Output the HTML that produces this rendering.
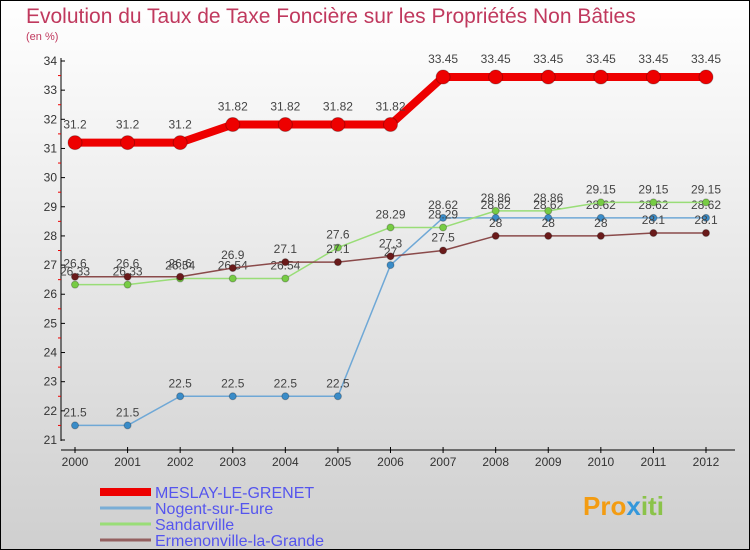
<!DOCTYPE html>
<html><head><meta charset="utf-8"><style>
html,body{margin:0;padding:0}
body{width:750px;height:550px;overflow:hidden;font-family:"Liberation Sans",sans-serif}
svg{display:block}
</style></head><body>
<svg id="c" width="750" height="550" xmlns="http://www.w3.org/2000/svg">
<defs><linearGradient id="bg" x1="0" y1="0" x2="0" y2="1"><stop offset="0" stop-color="#ffffff"/><stop offset="1" stop-color="#cfcfcf"/></linearGradient></defs>
<rect x="0.5" y="0.5" width="749" height="549" fill="url(#bg)" stroke="#000"/>
<text x="26" y="23" font-size="21" fill="#c0395e">Evolution du Taux de Taxe Foncière sur les Propriétés Non Bâties</text>
<text x="26" y="40" font-size="11" fill="#c0395e">(en %)</text>
<g id="axes"></g><g id="series"></g><g id="legend"></g>
<text x="583" y="515" font-size="26" font-weight="bold" fill="#f39c12">Pro<tspan fill="#3498db">x</tspan><tspan fill="#8bc34a">iti</tspan></text>
</svg>
<script>
const years=[2000,2001,2002,2003,2004,2005,2006,2007,2008,2009,2010,2011,2012];
const yTicks=[21,22,23,24,25,26,27,28,29,30,31,32,33,34];
const names=["MESLAY-LE-GRENET","Nogent-sur-Eure","Sandarville","Ermenonville-la-Grande"];
const meslay=[31.2,31.2,31.2,31.82,31.82,31.82,31.82,33.45,33.45,33.45,33.45,33.45,33.45];
const nogent=[21.5,21.5,22.5,22.5,22.5,22.5,27,28.62,28.62,28.62,28.62,28.62,28.62];
const sandarville=[26.33,26.33,26.54,26.54,26.54,27.6,28.29,28.29,28.86,28.86,29.15,29.15,29.15];
const ermenonville=[26.6,26.6,26.6,26.9,27.1,27.1,27.3,27.5,28,28,28,28.1,28.1];
const NS="http://www.w3.org/2000/svg";
const X=i=>75+i*(706-75)/(years.length-1);
const Y=v=>440-(v-21)*(440-61)/13;
function mk(t,a,p){const e=document.createElementNS(NS,t);for(const k in a)e.setAttribute(k,a[k]);(p||document.getElementById('c')).appendChild(e);return e;}
const ax=document.getElementById('axes');
let e=mk('line',{x1:61,y1:58,x2:61,y2:441,stroke:'#000'},ax);


e=mk('line',{x1:61,y1:450,x2:735,y2:450,stroke:'#000'},ax);


yTicks.forEach((v,i)=>{
 mk('line',{x1:61,y1:Y(v),x2:65,y2:Y(v),stroke:'#000'},ax);
 if(i<yTicks.length-1)mk('line',{x1:58,y1:Y(v+0.5),x2:61,y2:Y(v+0.5),stroke:'#e00'},ax);
 const t=mk('text',{x:57,y:Y(v)+4,'font-size':12,'text-anchor':'end',fill:'#333'},ax);t.textContent=v;
 
 
});
years.forEach((y,i)=>{
 mk('line',{x1:X(i),y1:447,x2:X(i),y2:453,stroke:'#000'},ax);
 const t=mk('text',{x:X(i),y:466,'font-size':12,'text-anchor':'middle',fill:'#333'},ax);t.textContent=y;
 
 
});
const sg=document.getElementById('series');
function draw(vals,col,w,r,fill,nm,dy){
 const g=mk('g',{},sg);
 
 
 mk('polyline',{points:vals.map((v,i)=>X(i)+','+Y(v)).join(' '),fill:'none',stroke:col,'stroke-width':w,'stroke-linejoin':'round'},g);
 vals.forEach((v,i)=>{
  const c=mk('circle',{cx:X(i),cy:Y(v),r:r,fill:fill,stroke:'rgba(0,0,0,0.25)'},g);
  
  
  const t=mk('text',{x:X(i),y:Y(v)-dy,'font-size':12,'text-anchor':'middle',fill:'#444'},g);t.textContent=v;
  
  
 });
}
draw(nogent,'#6fa8d6',1.5,3.5,'#3a8cc8','series-nogent',9);
draw(sandarville,'#99dd77',1.5,3.5,'#77cc44','series-sandarville',9);
draw(ermenonville,'#8a4a4a',1.5,3.5,'#6a1a1a','series-ermenonville',9);
draw(meslay,'#ee0000',8,7,'#ee0000','series-meslay',14);
const lg=document.getElementById('legend');
const lc=['#ee0000','#7aaed6','#99dd77','#946060'],lw=[8,3,3,3];
names.forEach((n,i)=>{
 const y=492+i*16;
 const g=mk('g',{},lg);
 
 
 mk('line',{x1:100,y1:y,x2:151,y2:y,stroke:lc[i],'stroke-width':lw[i]},g);
 const t=mk('text',{x:155,y:y+6,'font-size':16,fill:'#5555ee'},g);t.textContent=n;
});
</script>
</body></html>
